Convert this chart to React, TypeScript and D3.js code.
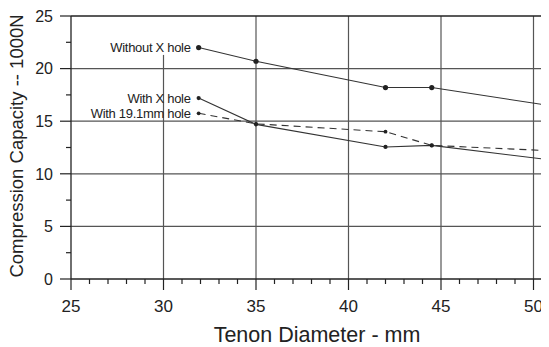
import React from "react";
import * as d3 from "d3";

const diameters = [31.9, 35, 42, 44.5, 50.8];
const withoutHole = [22.0, 20.7, 18.2, 18.2, 16.5];
const withXHole = [17.2, 14.7, 12.55, 12.7, 11.35];
const with19Hole = [15.75, 14.75, 14.0, 12.7, 12.2];
const seriesNames = ["Without X hole", "With X hole", "With 19.1mm hole"];
const xTicks = [25, 30, 35, 40, 45, 50];
const yTicks = [0, 5, 10, 15, 20, 25];

const W = 549;
const H = 347;
const font = "Arial, 'Liberation Sans', sans-serif";
const ink = "#222";
const gridColor = "#555";

const x = d3.scaleLinear().domain([25, 51]).range([71, 552]);
const y = d3.scaleLinear().domain([0, 25]).range([279, 16]);

const line = d3
  .line<number>()
  .x((_, i) => x(diameters[i]))
  .y((d) => y(d));

const allSeries = [withoutHole, withXHole, with19Hole];
const dashes = [undefined, undefined, "7 5"];
const radii = [2.6, 2.1, 1.9];

const App = () => {
  return (
    <svg width={W} height={H} style={{ display: "block", overflow: "visible" }}>
      {/* body margin is 8px, pull the drawing back to the page corner */}
      <g transform="translate(-8,-8)">
        <rect x={0} y={0} width={W} height={H} fill="#fff" />
        {/* grid */}
        {yTicks
          .filter((v) => v > 0 && v < 25)
          .map((v) => (
            <line key={"gy" + v} x1={x(25)} x2={W} y1={y(v)} y2={y(v)} stroke={gridColor} strokeWidth={1.2} />
          ))}
        {xTicks
          .filter((v) => v > 25)
          .map((v) => (
            <line
              key={"gx" + v}
              x1={x(v)}
              x2={x(v)}
              // the label at 30 hides the top of that gridline
              y1={v === 30 ? y(21.3) : y(25)}
              y2={y(0)}
              stroke={gridColor}
              strokeWidth={1.2}
            />
          ))}

        {/* frame */}
        <line x1={x(25)} x2={W} y1={y(25)} y2={y(25)} stroke={ink} strokeWidth={1.3} />
        <line x1={x(25)} x2={W} y1={y(0)} y2={y(0)} stroke={ink} strokeWidth={1.3} />
        <line x1={x(25)} x2={x(25)} y1={y(25)} y2={y(0)} stroke={ink} strokeWidth={1.3} />

        {/* y ticks */}
        {d3.range(0, 25.01, 2.5).map((v) => (
          <line
            key={"ty" + v}
            x1={x(25) - (v % 5 === 0 ? 11 : 5)}
            x2={x(25)}
            y1={y(v)}
            y2={y(v)}
            stroke={ink}
            strokeWidth={1.2}
          />
        ))}
        {yTicks.map((v) => (
          <text key={"ly" + v} x={53} y={y(v)} dy="0.36em" textAnchor="end" fontFamily={font} fontSize={16} fill={ink}>
            {v}
          </text>
        ))}

        {/* x ticks */}
        {d3.range(25, 51.01, 1).map((v) => (
          <line
            key={"tx" + v}
            x1={x(v)}
            x2={x(v)}
            y1={y(0)}
            y2={y(0) + (v % 5 === 0 ? 11 : 5)}
            stroke={ink}
            strokeWidth={1.2}
          />
        ))}
        {xTicks.map((v) => (
          <text key={"lx" + v} x={x(v)} y={312} textAnchor="middle" fontFamily={font} fontSize={17} fill={ink}>
            {v}
          </text>
        ))}

        {/* axis titles */}
        <text x={317} y={342} textAnchor="middle" fontFamily={font} fontSize={21.5} fill={ink}>
          Tenon Diameter - mm
        </text>
        <text
          transform="translate(23, 146) rotate(-90)"
          textAnchor="middle"
          fontFamily={font}
          fontSize={18.5}
          fill={ink}
        >
          Compression Capacity -- 1000N
        </text>

        {/* series */}
        {allSeries.map((vals, k) => (
          <g key={"s" + k}>
            <path d={line(vals) || ""} fill="none" stroke="#333" strokeWidth={1.1} strokeDasharray={dashes[k]} />
            {vals.map((d, i) => (
              <circle key={i} cx={x(diameters[i])} cy={y(d)} r={radii[k]} fill={ink} />
            ))}
            <text
              x={x(diameters[0]) - 8}
              y={y(vals[0])}
              dy="0.35em"
              textAnchor="end"
              fontFamily={font}
              fontSize={13}
              letterSpacing={-0.3}
              fill={ink}
            >
              {seriesNames[k]}
            </text>
          </g>
        ))}
      </g>
    </svg>
  );
};

export default App;
